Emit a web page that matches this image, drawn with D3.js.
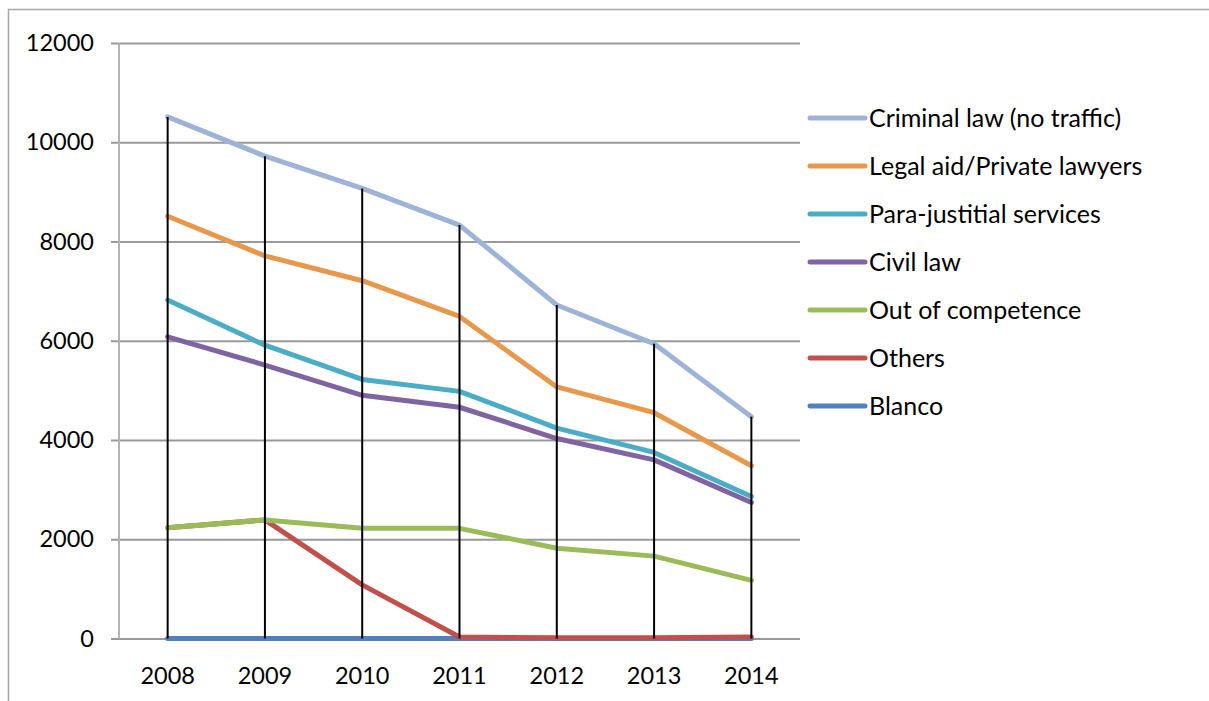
<!DOCTYPE html>
<html>
<head>
<meta charset="utf-8">
<script src="https://cdn.jsdelivr.net/npm/d3@7"></script>
<style>
  html, body { margin: 0; padding: 0; background: #fff; }
  svg { display: block; }
  text { font-family: Lato, "Open Sans", sans-serif; fill: #000; }
</style>
</head>
<body>
<svg id="chart" width="1209" height="701"></svg>
<script>
// Case counts by year and category
const years = ["2008", "2009", "2010", "2011", "2012", "2013", "2014"];
const seriesNames = [
  "Criminal law (no traffic)",
  "Legal aid/Private lawyers",
  "Para-justitial services",
  "Civil law",
  "Out of competence",
  "Others",
  "Blanco"
];
const seriesColors = ["#9DB3D8", "#E8984A", "#4BACC6", "#8064A2", "#9BBB59", "#C0504D", "#4F81BD"];

const criminalLaw   = [10510, 9720, 9070, 8330, 6720, 5940, 4470];
const legalAid      = [8510, 7710, 7210, 6490, 5070, 4550, 3480];
const paraJustitial = [6820, 5910, 5220, 4980, 4240, 3750, 2860];
const civilLaw      = [6080, 5510, 4900, 4660, 4030, 3600, 2740];
const outOfCompet   = [2230, 2390, 2220, 2220, 1820, 1660, 1170];
const others        = [2230, 2390, 1080, 30, 15, 15, 30];
const blanco        = [0, 0, 0, 0, 0, 0, 0];

const seriesValues = [criminalLaw, legalAid, paraJustitial, civilLaw, outOfCompet, others, blanco];
const yTicks = [0, 2000, 4000, 6000, 8000, 10000, 12000];

const svg = d3.select("#chart");

// Outer chart frame
svg.append("path")
  .attr("d", "M8.5,701 V9.5 H1209")
  .attr("fill", "none")
  .attr("stroke", "#a6a6a6")
  .attr("stroke-width", 1.5);

const plot = { left: 119, right: 800, top: 43, bottom: 638.5 };

const x = d3.scaleBand().domain(years).range([plot.left, plot.right]);
const y = d3.scaleLinear().domain([0, 12000]).range([plot.bottom, plot.top]);
const cx = d => x(d) + x.bandwidth() / 2;

// Horizontal gridlines with short ticks to the left of the axis
const yAxis = d3.axisLeft(y)
  .tickValues(yTicks)
  .tickSize(-(plot.right - plot.left))
  .tickSizeOuter(0)
  .tickPadding(25)
  .tickFormat(d3.format("d"));

const gy = svg.append("g")
  .attr("transform", `translate(${plot.left},0)`)
  .call(yAxis);
gy.select(".domain").remove();
gy.selectAll(".tick line")
  .attr("x1", -8)
  .attr("stroke", "#999")
  .attr("stroke-width", 2);
gy.selectAll(".tick text")
  .attr("font-size", 23.5)
  .attr("font-family", "Lato, sans-serif")
  .attr("fill", "#000");

// Vertical value axis line
svg.append("line")
  .attr("x1", plot.left).attr("x2", plot.left)
  .attr("y1", plot.top).attr("y2", plot.bottom)
  .attr("stroke", "#b3b3b3")
  .attr("stroke-width", 2);

// Category axis labels
const xAxis = d3.axisBottom(x).tickSize(0).tickPadding(29);
const gx = svg.append("g")
  .attr("transform", `translate(0,${plot.bottom})`)
  .call(xAxis);
gx.select(".domain").remove();
gx.selectAll(".tick text")
  .attr("font-size", 23.5)
  .attr("font-family", "Lato, sans-serif")
  .attr("fill", "#000");

// Series lines, drawn last-listed first so the top of the legend sits on top
const line = d3.line()
  .x((d, i) => cx(years[i]))
  .y(d => y(d));

const order = d3.range(seriesNames.length).reverse();
svg.append("g")
  .selectAll("path")
  .data(order)
  .join("path")
  .attr("d", i => line(seriesValues[i]))
  .attr("fill", "none")
  .attr("stroke", i => seriesColors[i])
  .attr("stroke-width", 5)
  .attr("stroke-linejoin", "round")
  .attr("stroke-linecap", "round");

// Drop lines from the highest value down to zero
svg.append("g")
  .selectAll("line")
  .data(years)
  .join("line")
  .attr("x1", d => cx(d)).attr("x2", d => cx(d))
  .attr("y1", (d, i) => y(d3.max(seriesValues, s => s[i])))
  .attr("y2", y(0))
  .attr("stroke", "#000")
  .attr("stroke-width", 2);

// Legend
const legend = svg.append("g").attr("transform", "translate(810,118)");
const item = legend.selectAll("g")
  .data(seriesNames)
  .join("g")
  .attr("transform", (d, i) => `translate(0,${i * 48})`);
item.append("line")
  .attr("x1", 0).attr("x2", 55)
  .attr("stroke", (d, i) => seriesColors[i])
  .attr("stroke-width", 5)
  .attr("stroke-linecap", "round");
item.append("text")
  .attr("x", 59)
  .attr("dy", "0.36em")
  .attr("font-size", 25)
  .text(d => d);
</script>
</body>
</html>
